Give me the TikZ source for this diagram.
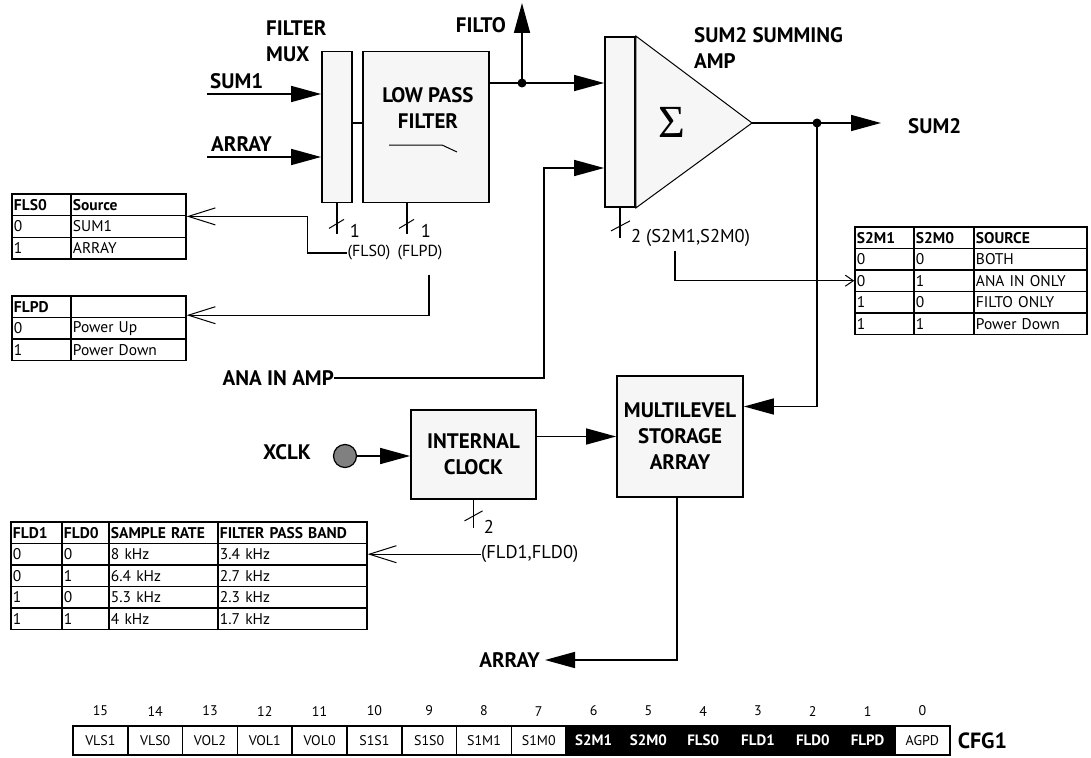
\documentclass[tikz,border=0pt]{standalone}
\usepackage{fontspec}
\setmainfont{PT Sans}
\newfontfamily\sigmafont{Liberation Serif}
\usetikzlibrary{arrows.meta, positioning, matrix}
\definecolor{blockgray}{RGB}{246, 246, 246}
\definecolor{clkgray}{RGB}{128, 128, 128}
\tikzset{
  wire/.style={line width=1.6pt},
  arr/.style={wire, -{Triangle[length=30pt, width=16pt]}},
  tabarr/.style={line width=1.4pt, -{Straight Barb[length=27pt, width=17pt, line width=1pt]}},
  tabarrsmall/.style={line width=1.4pt, -{Straight Barb[length=8pt, width=11pt, line width=1pt]}},
  block/.style={rectangle, draw, line width=1.8pt, fill=blockgray, align=center, inner sep=0pt, font=\fontsize{21}{26}\selectfont\bfseries},
  lbl/.style={inner sep=0pt, align=left, font=\fontsize{21}{26}\selectfont\bfseries},
  buslbl/.style={inner sep=0pt, font=\fontsize{16}{19}\selectfont},
  widebus/.style={buslbl, font=\fontsize{18.5}{21}\selectfont},
  tab/.style={matrix of nodes, nodes in empty cells, inner sep=0pt, column sep=-1.5pt, row sep=-1.5pt,
    nodes={draw, line width=1.5pt, inner xsep=2pt, inner ysep=0pt, minimum height=21.5pt, anchor=center, font=\fontsize{15.5}{17}\selectfont},
    row 1/.style={nodes={font=\fontsize{15.5}{17}\selectfont\bfseries}}},
  regcell/.style={rectangle, minimum width=54.8, minimum height=29, inner sep=0pt, line width=1.5pt},
  regw/.style={regcell, draw, fill=white, font=\fontsize{14}{16}\selectfont},
  regb/.style={regcell, draw=black, fill=black, text=white, font=\fontsize{15}{17}\selectfont\bfseries},
  bitnum/.style={inner sep=0pt, font=\fontsize{14}{16}\selectfont}
}
\begin{document}
\begin{tikzpicture}[x=1pt, y=-1pt]
  \useasboundingbox (0,0) rectangle (1091,757);

  % filter mux and low pass filter
  \node[block, minimum width=30, minimum height=151]  (fmux) at (337,127) {};
  \node[block, minimum width=126, minimum height=151] (lpf)  at (426,127) {};
  \node[lbl, align=center] (lpftxt) at (428,108) {LOW PASS\\FILTER};
  \draw[line width=1pt] ([shift={(-37,18)}]lpf.center) -- ++(53,0) -- ++(15,7);
  \node[lbl, anchor=west] (fmuxtxt) at (266,41) {FILTER\\MUX};

  \node[lbl, anchor=west] (sum1) at (210,81) {SUM1};
  \node[lbl, anchor=west] (arrin) at (211,144) {ARRAY};
  \coordinate (sum1in) at (207,94);
  \coordinate (arrinpt) at (207,157);
  \draw[arr] (sum1in) -- (sum1in -| fmux.west);
  \draw[arr] (arrinpt) -- (arrinpt -| fmux.west);
  \draw[wire] ([yshift=4]fmux.east) -- ([yshift=4]lpf.west);

  % sum2 summing amp
  \node[block, minimum width=30, minimum height=170] (smux) at (620,122) {};
  \coordinate (apex) at (752,123);
  \draw[line width=1pt, fill=blockgray] (smux.north east) -- (apex) -- (smux.south east) -- cycle;
  \node[inner sep=0pt, font=\sigmafont\fontsize{46}{46}\selectfont] (sigma) at (672,122) {Σ};
  \node[lbl, anchor=west] (sumtxt) at (694,48) {SUM2 SUMMING\\AMP};

  \coordinate (filtodot) at (522,83);
  \coordinate (filtotip) at (522,3);
  \node[lbl, anchor=east] (filto) at (506,25) {FILTO};
  \draw[wire] (filtodot -| lpf.east) -- (filtodot);
  \draw[arr] (filtodot) -- (filtotip);
  \draw[arr] (filtodot) -- (filtodot -| smux.west);
  \fill (filtodot) circle (4.5);

  \node[lbl, anchor=east] (anain) at (334,378) {ANA IN AMP};
  \coordinate (anabend) at (544,168);
  \draw[arr] (anain.east) -| (anabend) -- (anabend -| smux.west);

  \coordinate (sum2dot) at (817,123);
  \coordinate (sum2tip) at (881,123);
  \node[lbl, anchor=west] (sum2) at (908,126) {SUM2};
  \draw[wire] (apex) -- (sum2dot);
  \draw[arr] (sum2dot) -- (sum2tip);
  \fill (sum2dot) circle (4.5);

  % clock and storage array
  \node[block, minimum width=125, minimum height=89]  (ic)  at (473.5,454.5) {INTERNAL\\CLOCK};
  \node[block, minimum width=126, minimum height=121] (msa) at (680,436.5) {MULTILEVEL\\STORAGE\\ARRAY};
  \node[circle, draw, line width=1.2pt, fill=clkgray, minimum size=23, inner sep=0pt] (xclk) at (345,456) {};
  \node[lbl] (xclktxt) at (287,452) {XCLK};
  \draw[arr] (xclk) -- (xclk -| ic.west);
  \draw[arr] (msa.west -| ic.east) -- (msa.west);
  \draw[arr] (sum2dot) |- ([yshift=30]msa.east);

  \node[lbl, anchor=east] (arrout) at (540,660) {ARRAY};
  \draw[arr] ([xshift=-3]msa.south) |- ([xshift=5]arrout.east);

  % bus marks
  \draw[wire] (fmux.south) -- ++(0,31);
  \draw[line width=1pt] ([shift={(-8,25)}]fmux.south) -- ++(15,-9);
  \node[widebus] (fmuxw) at (355,231) {1};
  \draw[wire] ([xshift=-19]lpf.south) -- ++(0,31);
  \draw[line width=1pt] ([shift={(-27,25)}]lpf.south) -- ++(15,-9);
  \node[widebus] (lpfw) at (426,231) {1};
  \node[buslbl] (fls0lbl) at (369,253) {(FLS0)};
  \node[buslbl] (flpdlbl) at (420,253) {(FLPD)};

  \draw[wire] (smux.south) -- ++(0,30);
  \draw[line width=1pt] ([shift={(-9,23)}]smux.south) -- ++(19,-10);
  \node[widebus, anchor=west] (s2mlbl) at (631,238) {2 (S2M1,S2M0)};

  \draw[wire] (ic.south) -- ++(0,28);
  \draw[line width=1pt] ([shift={(-9,21)}]ic.south) -- ++(18,-10);
  \node[widebus] (icw) at (489,527) {2};
  \node[widebus, anchor=west] (fldlbl) at (481,554) {(FLD1,FLD0)};

  % tables
  \matrix[tab, anchor=north west, column 1/.style={nodes={text width=55}},
          column 2/.style={nodes={text width=111}}, nodes={minimum height=21.7}] (fls) at (11,193) {
    FLS0 & Source \\
    0    & SUM1   \\
    1    & ARRAY  \\
  };
  \matrix[tab, anchor=north west, column 1/.style={nodes={text width=55}},
          column 2/.style={nodes={text width=111}}] (flpd) at (11,295) {
    FLPD &            \\
    0    & Power Up   \\
    1    & Power Down \\
  };
  \matrix[tab, anchor=north west, column 1/.style={nodes={text width=55}},
          column 2/.style={nodes={text width=56}}, column 3/.style={nodes={text width=109}}] (s2m) at (854,226) {
    S2M1 & S2M0 & SOURCE      \\
    0    & 0    & BOTH        \\
    0    & 1    & ANA IN ONLY \\
    1    & 0    & FILTO ONLY  \\
    1    & 1    & Power Down  \\
  };
  \matrix[tab, anchor=north west, column 1/.style={nodes={text width=47}},
          column 2/.style={nodes={text width=43}}, column 3/.style={nodes={text width=105}},
          column 4/.style={nodes={text width=145}}] (fld) at (10,521) {
    FLD1 & FLD0 & SAMPLE RATE & FILTER PASS BAND \\
    0    & 0    & 8 kHz       & 3.4 kHz \\
    0    & 1    & 6.4 kHz     & 2.7 kHz \\
    1    & 0    & 5.3 kHz     & 2.3 kHz \\
    1    & 1    & 4 kHz       & 1.7 kHz \\
  };

  \draw[tabarr] (fls0lbl.west) -- ++(-40,0) |- (fls-1-2.south east);
  \draw[tabarr] ([xshift=9]flpdlbl.south) ++(0,14) |- ([yshift=3]flpd-1-2.south east);
  \draw[tabarrsmall] ([xshift=44]s2mlbl.south west) ++(0,4) |- (s2m-3-1.west);
  \draw[tabarr] (fld-2-4.east -| fldlbl.west) -- (fld-2-4.east);

  % CFG1 register
  \foreach \b/\name in {15/VLS1, 14/VLS0, 13/VOL2, 12/VOL1, 11/VOL0, 10/S1S1, 9/S1S0, 8/S1M1, 7/S1M0, 0/AGPD}
    \node[regw] (bit\b) at ({922.4-54.8*\b},740.5) {\name};
  \foreach \b/\name in {6/S2M1, 5/S2M0, 4/FLS0, 3/FLD1, 2/FLD0, 1/FLPD}
    \node[regb] (bit\b) at ({922.4-54.8*\b},740.5) {\name};
  \foreach \b in {0,...,15}
    \node[bitnum, above=9pt of bit\b] (num\b) {\b};
  \node[font=\fontsize{22}{24}\selectfont\bfseries, inner sep=0pt, right=7pt of bit0] (cfg) {CFG1};

\end{tikzpicture}
\end{document}
